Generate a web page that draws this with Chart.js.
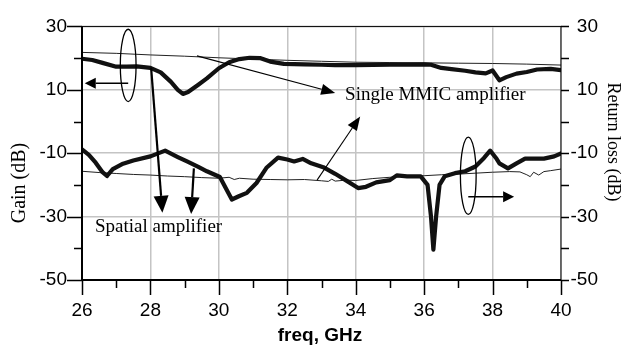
<!DOCTYPE html>
<html lang="en">
<head>
  <meta charset="UTF-8">
  <title>Gain and return loss vs frequency</title>
  <script src="https://cdn.jsdelivr.net/npm/chart.js"></script>
  <style>
    html, body { margin: 0; padding: 0; background: #fff; }
    canvas { display: block; }
  </style>
</head>
<body>
  <canvas id="gainChart" width="625" height="346"></canvas>

  <script>
    // values (GHz / dB)
    const spatialGainFreq = [26.0, 26.3, 26.6, 27.0, 27.3, 27.6, 28.0, 28.3, 28.6, 28.8, 28.95, 29.1, 29.4, 29.65, 30.0, 30.3, 30.6, 30.9, 31.2, 31.5, 31.9, 32.5, 33.0, 33.4, 34.0, 35.0, 36.0, 36.2, 36.5, 36.8, 37.2, 37.5, 37.8, 38.0, 38.2, 38.4, 38.7, 39.0, 39.3, 39.7, 40.0];
    const spatialGain     = [19.8, 19.4, 18.5, 17.3, 17.3, 17.4, 16.9, 15.5, 12.5, 10.0, 8.7, 9.3, 11.6, 13.6, 16.8, 18.7, 19.7, 20.1, 20.0, 18.9, 18.2, 18.0, 17.9, 17.8, 17.8, 17.9, 18.0, 17.9, 16.9, 16.5, 16.0, 15.5, 15.2, 16.1, 13.0, 14.0, 15.1, 15.6, 16.4, 16.6, 16.2];

    const mmicGainFreq = [26, 27, 28, 29, 30, 31, 32, 33, 34, 35, 36, 37, 38, 39, 40];
    const mmicGain     = [21.8, 21.5, 21.0, 20.6, 20.1, 19.7, 19.3, 19.0, 18.7, 18.6, 18.5, 18.4, 18.3, 18.1, 17.8];

    const spatialRlFreq = [26.0, 26.2, 26.4, 26.6, 26.73, 26.9, 27.2, 27.5, 28.0, 28.43, 28.8, 29.07, 29.4, 29.65, 30.03, 30.2, 30.38, 30.6, 30.82, 31.1, 31.4, 31.73, 32.0, 32.2, 32.45, 32.7, 33.05, 33.4, 33.75, 34.07, 34.3, 34.6, 35.0, 35.2, 35.5, 35.9, 36.1, 36.2, 36.27, 36.35, 36.45, 36.6, 36.9, 37.2, 37.5, 37.75, 37.93, 38.1, 38.2, 38.45, 38.7, 38.95, 39.5, 39.8, 40.0];
    const spatialRl     = [-8.8, -10.5, -13.0, -16.0, -17.2, -15.0, -13.3, -12.3, -11.0, -9.2, -11.2, -12.6, -14.3, -15.7, -17.5, -21.0, -24.6, -23.5, -22.5, -19.4, -14.5, -11.4, -12.0, -12.6, -11.8, -13.2, -14.4, -16.5, -18.8, -21.0, -20.6, -19.2, -18.5, -17.0, -17.3, -17.3, -20.0, -30.0, -40.4, -30.0, -20.0, -17.3, -16.3, -15.7, -14.2, -11.5, -9.2, -11.5, -13.2, -14.8, -13.2, -11.7, -11.7, -11.0, -10.1];

    const mmicRlFreq = [26.0, 26.5, 27.0, 27.5, 28.0, 28.5, 29.0, 29.5, 30.0, 30.3, 30.45, 30.6, 31.0, 31.5, 32.0, 32.5, 33.0, 33.2, 33.3, 33.4, 33.7, 34.0, 34.5, 35.0, 35.5, 36.0, 36.5, 37.0, 37.5, 38.0, 38.5, 38.8, 39.0, 39.1, 39.2, 39.35, 39.5, 39.7, 40.0];
    const mmicRl     = [-15.7, -16.1, -16.4, -16.7, -16.9, -17.2, -17.4, -17.7, -17.9, -17.6, -18.3, -17.9, -18.2, -18.3, -18.4, -18.3, -18.7, -18.9, -18.2, -18.8, -18.5, -18.6, -18.0, -17.6, -17.3, -17.1, -16.8, -16.6, -16.3, -16.0, -15.8, -15.9, -16.8, -17.4, -16.0, -16.9, -15.8, -15.5, -15.0];

    const yLabelValues = [30, 10, -10, -30, -50];

    const pts = (xs, ys) => xs.map((x, i) => ({ x: x, y: ys[i] }));

    const sans = '"Liberation Sans", Arial, sans-serif';
    const serif = '"Liberation Serif", "Times New Roman", serif';

    const drawArrow = (ctx, x1, y1, x2, y2, width, headLen, headWid) => {
      const ang = Math.atan2(y2 - y1, x2 - x1);
      const bx = x2 - headLen * Math.cos(ang);
      const by = y2 - headLen * Math.sin(ang);
      ctx.lineWidth = width;
      ctx.beginPath();
      ctx.moveTo(x1, y1);
      ctx.lineTo(bx, by);
      ctx.stroke();
      ctx.beginPath();
      ctx.moveTo(x2, y2);
      ctx.lineTo(bx + headWid / 2 * Math.sin(ang), by - headWid / 2 * Math.cos(ang));
      ctx.lineTo(bx - headWid / 2 * Math.sin(ang), by + headWid / 2 * Math.cos(ang));
      ctx.closePath();
      ctx.fill();
    };

    const decorations = {
      id: 'decorations',
      afterDatasetsDraw(chart) {
        const ctx = chart.ctx;
        const xs = chart.scales.x, ys = chart.scales.y1;
        const px = v => xs.getPixelForValue(v);
        const py = v => ys.getPixelForValue(v);
        const a = chart.chartArea;
        ctx.save();
        ctx.strokeStyle = '#000';
        ctx.fillStyle = '#000';

        // frame
        ctx.lineWidth = 1;
        ctx.strokeRect(a.left, a.top, a.right - a.left, a.bottom - a.top);
        ctx.lineWidth = 2;
        ctx.beginPath();
        ctx.moveTo(a.left, a.top); ctx.lineTo(a.left, a.bottom);
        ctx.moveTo(a.left, a.bottom); ctx.lineTo(a.right, a.bottom);
        ctx.stroke();

        // tick marks
        ctx.lineWidth = 1.5;
        ctx.beginPath();
        for (let v = -50; v <= 30; v += 10) {
          const major = yLabelValues.includes(v);
          const y = Math.round(py(v)) + 0.5;
          ctx.moveTo(a.left, y); ctx.lineTo(a.left - (major ? 15 : 8), y);
          ctx.moveTo(a.right, y); ctx.lineTo(a.right + 8, y);
        }
        for (let v = 26; v <= 40; v += 1) {
          const x = Math.round(px(v)) + 0.5;
          ctx.moveTo(x, a.bottom); ctx.lineTo(x, a.bottom + (v % 2 === 0 ? 15 : 8));
        }
        ctx.stroke();

        // right axis labels, right-aligned
        ctx.font = '19px ' + sans;
        ctx.textAlign = 'right';
        ctx.textBaseline = 'middle';
        yLabelValues.forEach(v => ctx.fillText(String(v), 598, py(v)));

        // ellipses and side arrows
        ctx.lineWidth = 1.3;
        ctx.beginPath();
        ctx.ellipse(px(27.35), py(17.7), px(27.58) - px(27.35), py(17.7) - py(29.1), 0, 0, Math.PI * 2);
        ctx.stroke();
        ctx.beginPath();
        ctx.ellipse(px(37.29), py(-17.1), px(37.52) - px(37.29), py(-17.1) - py(-4.9), 0, 0, Math.PI * 2);
        ctx.stroke();
        drawArrow(ctx, px(27.35), py(12.1), px(26.08), py(12.1), 1.5, 11, 11);
        drawArrow(ctx, px(37.29), py(-23.7), px(38.63), py(-23.7), 1.5, 11, 11);

        // pointer arrows
        drawArrow(ctx, px(29.36), py(20.7), px(33.4), py(9.0), 1.1, 14, 11);
        drawArrow(ctx, px(32.87), py(-18.5), px(34.13), py(1.6), 1.1, 14, 11);
        drawArrow(ctx, px(28.02), py(17.0), px(28.35), py(-28.8), 2.2, 17, 15);
        drawArrow(ctx, px(29.27), py(-14.8), px(29.19), py(-29.2), 2.2, 17, 15);

        // labels
        ctx.font = '19px ' + serif;
        ctx.textBaseline = 'middle';
        ctx.textAlign = 'left';
        ctx.fillText('Single MMIC amplifier', px(33.69), py(8.3));
        ctx.fillText('Spatial amplifier', px(26.38), py(-33.3));

        // axis titles
        ctx.save();
        ctx.translate(20, 183);
        ctx.rotate(-Math.PI / 2);
        ctx.textAlign = 'center';
        ctx.font = '20px ' + serif;
        ctx.fillText('Gain (dB)', 0, 0);
        ctx.restore();

        ctx.save();
        ctx.translate(613, 142);
        ctx.rotate(Math.PI / 2);
        ctx.textAlign = 'center';
        ctx.font = '18px ' + serif;
        ctx.fillText('Return loss (dB)', 0, 0);
        ctx.restore();

        ctx.textAlign = 'center';
        ctx.font = 'bold 19px ' + sans;
        ctx.fillText('freq, GHz', 320, 336);
        ctx.restore();
      }
    };

    const gridColor = '#c4c4c4';

    new Chart(document.getElementById('gainChart').getContext('2d'), {
      type: 'line',
      data: {
        datasets: [
          { label: 'Spatial gain', data: pts(spatialGainFreq, spatialGain), yAxisID: 'y', borderColor: '#111', borderWidth: 4.2, order: 0 },
          { label: 'Spatial return loss', data: pts(spatialRlFreq, spatialRl), yAxisID: 'y1', borderColor: '#111', borderWidth: 4.2, order: 0 },
          { label: 'MMIC gain', data: pts(mmicGainFreq, mmicGain), yAxisID: 'y', borderColor: '#222', borderWidth: 1, order: 1 },
          { label: 'MMIC return loss', data: pts(mmicRlFreq, mmicRl), yAxisID: 'y1', borderColor: '#222', borderWidth: 1, order: 1 }
        ]
      },
      options: {
        responsive: false,
        animation: false,
        layout: { padding: { top: 20, left: 0, right: 0, bottom: 0 } },
        elements: {
          point: { radius: 0 },
          line: { tension: 0, borderJoinStyle: 'round', borderCapStyle: 'round' }
        },
        plugins: { legend: { display: false }, tooltip: { enabled: false } },
        scales: {
          x: {
            type: 'linear',
            min: 26, max: 40,
            afterFit: s => { s.height = 66; },
            border: { display: false },
            grid: {
              drawTicks: false,
              lineWidth: 1.5,
              color: c => (c.tick && c.tick.value % 2 === 0) ? gridColor : 'rgba(0,0,0,0)'
            },
            ticks: {
              stepSize: 1,
              padding: 19,
              color: '#000',
              font: { family: sans, size: 19 },
              callback: v => (v % 2 === 0 ? String(v) : '')
            }
          },
          y: {
            position: 'left',
            min: -50, max: 30,
            afterFit: s => { s.width = 82; },
            border: { display: false },
            grid: {
              drawTicks: false,
              lineWidth: 1.5,
              color: c => (c.tick && yLabelValues.includes(c.tick.value)) ? gridColor : 'rgba(0,0,0,0)'
            },
            ticks: {
              stepSize: 10,
              padding: 15,
              color: '#000',
              font: { family: sans, size: 19 },
              callback: v => (yLabelValues.includes(v) ? String(v) : '')
            }
          },
          y1: {
            position: 'right',
            min: -50, max: 30,
            afterFit: s => { s.width = 64; },
            border: { display: false },
            grid: { display: false, drawTicks: false },
            ticks: { display: false, stepSize: 10 }
          }
        }
      },
      plugins: [decorations]
    });
  </script>
</body>
</html>
